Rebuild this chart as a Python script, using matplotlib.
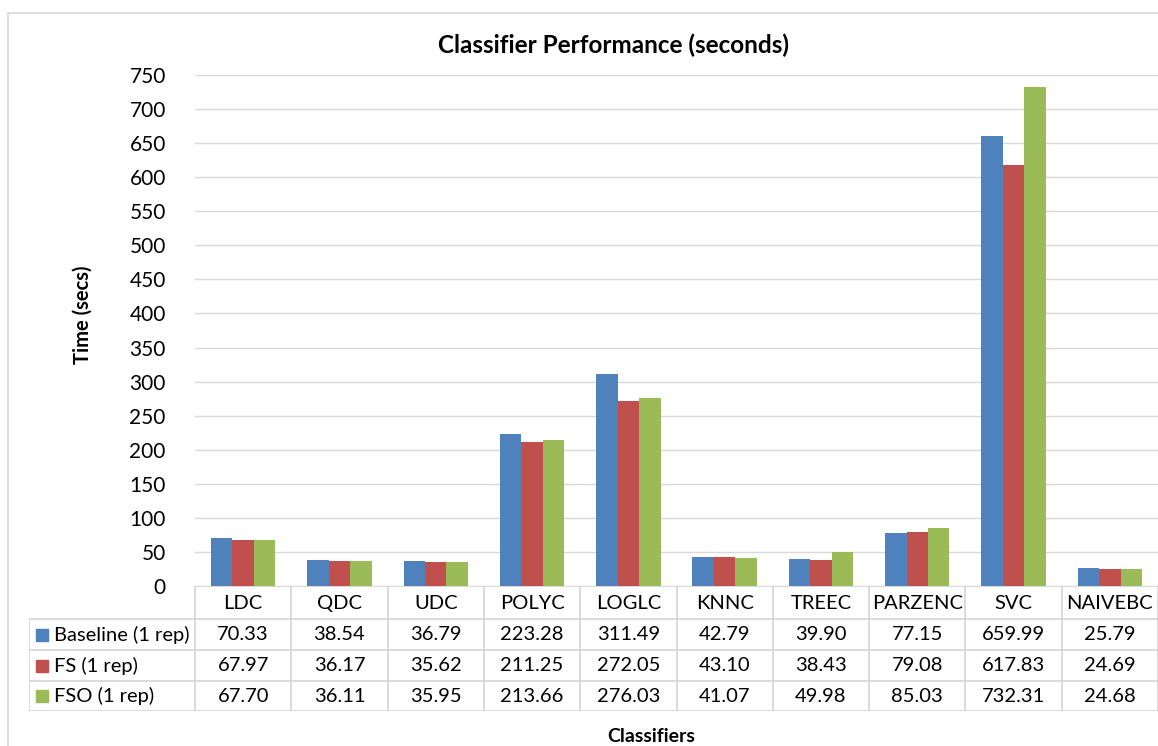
import numpy as np
import matplotlib
matplotlib.use('Agg')
import matplotlib.pyplot as plt
from matplotlib.lines import Line2D
from matplotlib.patches import Rectangle

# chart data
classifiers = ['LDC', 'QDC', 'UDC', 'POLYC', 'LOGLC', 'KNNC', 'TREEC', 'PARZENC', 'SVC', 'NAIVEBC']
series_names = ['Baseline (1 rep)', 'FS (1 rep)', 'FSO (1 rep)']
baseline = [70.33, 38.54, 36.79, 223.28, 311.49, 42.79, 39.90, 77.15, 659.99, 25.79]
fs = [67.97, 36.17, 35.62, 211.25, 272.05, 43.10, 38.43, 79.08, 617.83, 24.69]
fso = [67.70, 36.11, 35.95, 213.66, 276.03, 41.07, 49.98, 85.03, 732.31, 24.68]
yticks = list(range(0, 751, 50))

colors = ['#4F81BD', '#C0504D', '#9BBB59']
grid_c = '#D9D9D9'
plt.rcParams['font.family'] = ['Lato', 'DejaVu Sans']

W, H = 1158, 746
fig = plt.figure(figsize=(W / 100, H / 100), dpi=100)

# outer chart border
fig.add_artist(Rectangle((8 / W, -0.1), 1.2, (H - 13) / H + 0.1, transform=fig.transFigure,
                         fill=False, edgecolor=grid_c, lw=1.2))

# plot area in pixel terms
x0, x1, ytop, y0 = 195, 1158, 75, 586
ax = fig.add_axes([x0 / W, (H - y0) / H, (x1 - x0) / W, (y0 - ytop) / H])

x = np.arange(len(classifiers))
bw = 0.223
for i, vals in enumerate([baseline, fs, fso]):
    ax.bar(x + (i - 1) * bw, vals, width=bw, color=colors[i], zorder=3)

ax.set_xlim(-0.5, len(classifiers) - 0.5)
ax.set_ylim(0, 750)
ax.set_yticks(yticks)
ax.set_yticklabels([str(t) for t in yticks], fontsize=15)
ax.set_xticks([])
ax.grid(axis='y', color=grid_c, lw=1, zorder=0)
for s in ['top', 'right', 'left']:
    ax.spines[s].set_visible(False)
ax.spines['bottom'].set_color(grid_c)
ax.tick_params(axis='y', length=0, pad=21)

fig.text(614 / W, 1 - 45 / H, 'Classifier Performance (seconds)', ha='center', va='center',
         fontsize=17.5, fontweight='bold')
fig.text(83 / W, 1 - 315 / H, 'Time (secs)', ha='center', va='center', rotation=90,
         fontsize=14.5, fontweight='bold')
fig.text(651 / W, 1 - 736 / H, 'Classifiers', ha='center', va='center',
         fontsize=14, fontweight='bold')

# data table below the plot, sharing the category x units
left_px = 29
colw = (x1 - x0) / len(classifiers)
tab_left = -0.5 - (x0 - left_px) / colw
tab = fig.add_axes([left_px / W, (H - 711) / H, (x1 - left_px) / W, (711 - y0) / H])
tab.set_xlim(tab_left, len(classifiers) - 0.5)
tab.set_ylim(711, y0)
tab.axis('off')

row_edges = [586, 619, 650, 681, 711]
lc = '#D4D4D4'
# horizontal lines
for ry in row_edges[1:]:
    tab.add_line(Line2D([tab_left, len(classifiers) - 0.5], [ry, ry], color=lc, lw=1.2))
# vertical lines
for k in range(len(classifiers) + 1):
    tab.add_line(Line2D([k - 0.5, k - 0.5], [586, 711], color=lc, lw=1.2))
tab.add_line(Line2D([tab_left, tab_left], [619, 711], color=lc, lw=1.2))

# header row
for k, name in enumerate(classifiers):
    tab.text(k, (row_edges[0] + row_edges[1]) / 2 + 1, name, ha='center', va='center', fontsize=14.5)

# data rows
for i, vals in enumerate([baseline, fs, fso]):
    cy = (row_edges[i + 1] + row_edges[i + 2]) / 2
    sq = 12 / colw
    tab.add_patch(Rectangle((tab_left + 7 / colw, cy - 6), sq, 12, color=colors[i]))
    tab.text(tab_left + 25 / colw, cy, series_names[i], ha='left', va='center', fontsize=14.5)
    for k, v in enumerate(vals):
        tab.text(k, cy, f'{v:.2f}', ha='center', va='center', fontsize=14.5)

fig.savefig('out.png', dpi=100)
